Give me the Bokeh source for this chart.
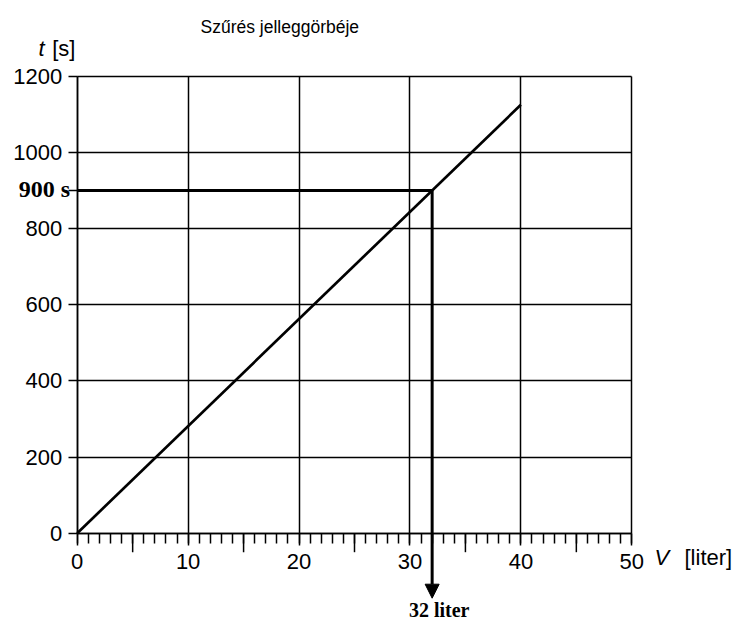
from bokeh.plotting import figure
from bokeh.models import Range1d, FixedTicker, Label, Arrow, NormalHead
from bokeh.embed import file_html
from bokeh.resources import INLINE

# ---- data ----
chart_title = "Szűrés jelleggörbéje"
volume_l = [0, 40]
time_s = [0, 1125]
read_time = 900
read_volume = 32
x_ticks = [0, 10, 20, 30, 40, 50]
x_half_ticks = [5, 15, 25, 35, 45]
x_minor_ticks = list(range(0, 51))
y_ticks = [0, 200, 400, 600, 800, 1000, 1200]

SANS = "Liberation Sans"
SERIF = "Liberation Serif"

# ---- layout (pixel geometry of the axes box inside the canvas) ----
W, H = 734, 626
X0_PX, X1_PX = 76.7, 631.3      # x = 0 and x = 50
Y0_PX, Y1_PX = 532.7, 75.7      # t = 0 and t = 1200
XMIN, XMAX = x_ticks[0], x_ticks[-1]
YMIN, YMAX = y_ticks[0], y_ticks[-1]
sx = (X1_PX - X0_PX) / (XMAX - XMIN)
sy = (Y0_PX - Y1_PX) / (YMAX - YMIN)
x_start = XMIN - X0_PX / sx
x_end = x_start + W / sx
y_end = YMAX + Y1_PX / sy
y_start = y_end - H / sy

p = figure(width=W, height=H, output_backend="svg", toolbar_location=None,
           x_range=Range1d(x_start, x_end), y_range=Range1d(y_start, y_end),
           min_border_left=0, min_border_right=0, min_border_top=0, min_border_bottom=0)
p.background_fill_color = "white"
p.border_fill_color = "white"
p.outline_line_color = None

# x axis at t = 0
xa = p.xaxis[0]
xa.fixed_location = YMIN
xa.bounds = (XMIN, XMAX)
xa.ticker = FixedTicker(ticks=x_ticks, minor_ticks=x_minor_ticks)
xa.axis_line_color = "black"
xa.axis_line_width = 1.5
xa.major_tick_in = 0
xa.major_tick_out = 12
xa.minor_tick_in = 0
xa.minor_tick_out = 10
xa.major_tick_line_color = "black"
xa.major_tick_line_width = 1.5
xa.minor_tick_line_color = "black"
xa.minor_tick_line_width = 1.5
xa.major_label_text_font = SANS
xa.major_label_text_font_size = "22px"
xa.major_label_text_color = "black"
xa.major_label_standoff = 9

# y axis at V = 0
ya = p.yaxis[0]
ya.fixed_location = XMIN
ya.bounds = (YMIN, YMAX)
ya.ticker = FixedTicker(ticks=y_ticks + [read_time], minor_ticks=[])
ya.major_label_overrides = {read_time: ""}
ya.axis_line_color = "black"
ya.axis_line_width = 1.5
ya.major_tick_in = 0
ya.major_tick_out = 9
ya.major_tick_line_color = "black"
ya.major_tick_line_width = 1.5
ya.minor_tick_line_color = None
ya.major_label_text_font = SANS
ya.major_label_text_font_size = "22px"
ya.major_label_text_color = "black"
ya.major_label_standoff = 6

# grid, limited to the axes box
gx, gy = p.xgrid[0], p.ygrid[0]
gx.ticker = FixedTicker(ticks=x_ticks)
gy.ticker = FixedTicker(ticks=y_ticks)
if "cross_bounds" in gx.properties():
    gx.cross_bounds = (YMIN, YMAX)
    gy.cross_bounds = (XMIN, XMAX)
    for g in (gx, gy):
        g.grid_line_color = "black"
        g.grid_line_width = 1.5
        g.grid_line_alpha = 1.0
else:
    gx.visible = False
    gy.visible = False
    p.segment(x0=x_ticks, y0=[YMIN] * len(x_ticks), x1=x_ticks, y1=[YMAX] * len(x_ticks),
              line_color="black", line_width=1.5)
    p.segment(x0=[XMIN] * len(y_ticks), y0=y_ticks, x1=[XMAX] * len(y_ticks), y1=y_ticks,
              line_color="black", line_width=1.5)

# longer ticks at 5, 15, ... (19 px)
p.segment(x0=x_half_ticks, y0=[YMIN] * len(x_half_ticks),
          x1=x_half_ticks, y1=[YMIN - 19 / sy] * len(x_half_ticks),
          line_color="black", line_width=1.5)

# characteristic line
p.line(volume_l, time_s, line_color="black", line_width=2.7)

# reading: 900 s -> 32 liter
p.line([XMIN, read_volume], [read_time, read_time], line_color="black", line_width=3)
p.add_layout(Arrow(x_start=read_volume, y_start=read_time,
                   x_end=read_volume, y_end=YMIN - 65 / sy,
                   line_color="black", line_width=3,
                   end=NormalHead(size=14, fill_color="black", line_color="black", line_width=1)))

lab_kw = dict(text_baseline="middle", text_color="black")
p.add_layout(Label(x=XMIN, y=read_time, x_offset=-7, y_offset=1, text=f"{read_time} s",
                   text_align="right",
                   text_font=SERIF, text_font_style="bold", text_font_size="24px", **lab_kw))
p.add_layout(Label(x=read_volume, y=YMIN, x_offset=7, y_offset=-77, text=f"{read_volume} liter",
                   text_align="center",
                   text_font=SERIF, text_font_style="bold", text_font_size="20px", **lab_kw))

# title and axis titles
p.add_layout(Label(x=XMIN, y=YMAX, x_offset=123.3, y_offset=49.7, text=chart_title,
                   text_align="left", text_font=SANS, text_font_size="17.5px", **lab_kw))
p.add_layout(Label(x=XMIN, y=YMAX, x_offset=-38.7, y_offset=28, text="t", text_align="left",
                   text_font=SANS, text_font_style="italic", text_font_size="22px", **lab_kw))
p.add_layout(Label(x=XMIN, y=YMAX, x_offset=-25, y_offset=28, text="[s]", text_align="left",
                   text_font=SANS, text_font_size="22px", **lab_kw))
p.add_layout(Label(x=XMAX, y=YMIN, x_offset=22.7, y_offset=-24.5, text="V", text_align="left",
                   text_font=SANS, text_font_style="italic", text_font_size="22px", **lab_kw))
p.add_layout(Label(x=XMAX, y=YMIN, x_offset=52.7, y_offset=-24.5, text="[liter]",
                   text_align="left", text_font=SANS, text_font_size="22px", **lab_kw))

open("out.html", "w").write(file_html(p, INLINE))
